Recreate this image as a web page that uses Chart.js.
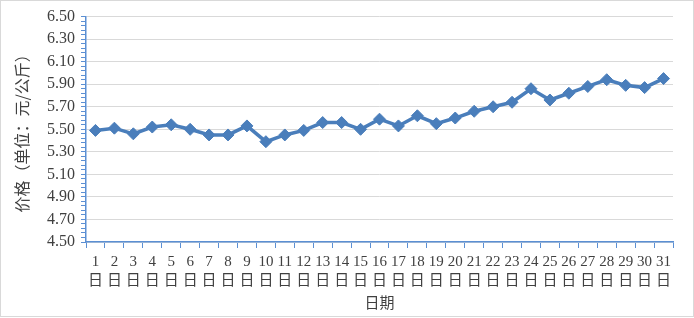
<!DOCTYPE html>
<html>
<head>
<meta charset="utf-8">
<script src="https://cdn.jsdelivr.net/npm/chart.js@4.4.0/dist/chart.umd.min.js"></script>
<style>
  body { margin: 0; background: #fff; }
  #wrap { position: absolute; left: 0; top: 0; width: 692px; height: 315px; border: 1px solid #d9d9d9; }
</style>
</head>
<body>
<div id="wrap"><canvas id="price-chart"></canvas></div>
<script>
const days = [];
for (let d = 1; d <= 31; d++) days.push([String(d), "日"]);

const prices = [
  5.49, 5.51, 5.46, 5.52, 5.54, 5.50, 5.45, 5.45, 5.53, 5.39,
  5.45, 5.49, 5.56, 5.56, 5.50, 5.59, 5.53, 5.62, 5.55, 5.60,
  5.66, 5.70, 5.74, 5.86, 5.76, 5.82, 5.88, 5.94, 5.89, 5.87,
  5.95
];

const yMin = 4.5;
const yMax = 6.5;
const yMajorStep = 0.2;
const yMinorStep = 0.04;

const AXIS_BLUE = "#5b8fd3";
const LINE_BLUE = "#4a7ebb";
const TEXT = "#404040";
const FONT = "'Liberation Serif', 'Noto Sans CJK SC', serif";
const CJK = "'Noto Sans CJK SC', sans-serif";

const minorPerMajor = Math.round(yMajorStep / yMinorStep);

const createChart = (elementId, chartConfig) => {
  const context = document.getElementById(elementId).getContext("2d");
  return new Chart(context, chartConfig);
};

const priceConfig = {
  type: "line",
  data: {
    labels: days,
    datasets: [
      {
        data: prices,
        borderColor: LINE_BLUE,
        backgroundColor: LINE_BLUE,
        borderWidth: 3.5,
        pointStyle: "rectRot",
        pointRadius: 6,
        pointBorderWidth: 1,
        pointBackgroundColor: LINE_BLUE,
        pointBorderColor: LINE_BLUE,
        tension: 0
      }
    ]
  },
  options: {
    responsive: true,
    maintainAspectRatio: false,
    animation: false,
    layout: {
      padding: { left: 5, top: 14, right: 20, bottom: 3 }
    },
    plugins: {
      legend: { display: false },
      tooltip: { enabled: false }
    },
    scales: {
      x: {
        offset: true,
        grid: {
          display: true,
          drawOnChartArea: false,
          offset: true,
          tickLength: 6,
          tickColor: AXIS_BLUE
        },
        border: { color: AXIS_BLUE, width: 1.5 },
        ticks: {
          autoSkip: false,
          maxRotation: 0,
          minRotation: 0,
          padding: 4,
          color: TEXT,
          font: { family: FONT, size: 15, lineHeight: 1.3 }
        },
        title: {
          display: true,
          text: "日期",
          color: TEXT,
          font: { family: CJK, size: 15 },
          padding: { top: 0, bottom: 2 }
        },
        afterFit: (scale) => { scale.height = 71; }
      },
      y: {
        min: yMin,
        max: yMax,
        grid: {
          color: (ctx) => (ctx.index % minorPerMajor === 0 ? "#d9d9d9" : "rgba(0,0,0,0)"),
          lineWidth: 1,
          tickLength: 5,
          tickColor: AXIS_BLUE
        },
        border: { color: AXIS_BLUE, width: 1.5 },
        ticks: {
          stepSize: yMinorStep,
          autoSkip: false,
          padding: 6,
          color: TEXT,
          font: { family: FONT, size: 16 },
          callback: function (value, index) {
            return index % minorPerMajor === 0 ? Number(value).toFixed(2) : "";
          }
        },
        title: {
          display: true,
          text: "价格（单位：元/公斤）",
          color: TEXT,
          font: { family: CJK, size: 16 },
          padding: { top: 6, bottom: 2 }
        },
        afterFit: (scale) => { scale.width = 80; }
      }
    }
  }
};

const priceChart = createChart("price-chart", priceConfig);
</script>
</body>
</html>
